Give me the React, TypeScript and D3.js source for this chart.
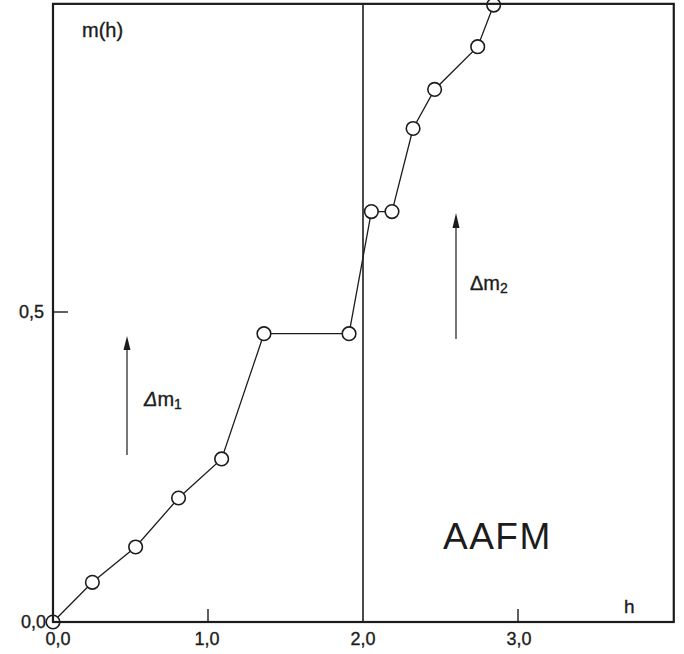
import React from "react";
import * as d3 from "d3";

const hValues = [0, 0.254, 0.533, 0.81, 1.088, 1.361, 1.91, 2.054, 2.187, 2.323, 2.462, 2.74, 2.843];
const mValues = [0, 0.064, 0.121, 0.2, 0.263, 0.465, 0.465, 0.662, 0.662, 0.796, 0.859, 0.928, 0.995];
const xTicks = [0, 1, 2, 3];
const xTickLabels = ["0,0", "1,0", "2,0", "3,0"];
const yTicks = [0, 0.5];
const yTickLabels = ["0,0", "0,5"];

const W = 684;
const H = 654;
const INK = "#1c1c1c";
const FONT = "'Liberation Sans', Arial, sans-serif";

export default function App() {
  const x = d3.scaleLinear().domain([0, 4]).range([53, 673]);
  const y = d3.scaleLinear().domain([0, 1]).range([622, 2]);
  const xMax = 4.005;
  const yMax = 0.997;
  const pts = hValues.map((h, i) => [h, mValues[i]] as [number, number]);
  const line = d3.line<[number, number]>().x((d) => x(d[0])).y((d) => y(d[1]));
  const textStyle = { stroke: INK, strokeWidth: 0.35 } as React.CSSProperties;

  return (
    <svg width={W} height={H} style={{ position: "absolute", left: 0, top: 0, background: "#fff" }}>
      <rect x={0} y={0} width={W} height={H} fill="#fff" />
      {/* vertical line at h = 2 */}
      <line x1={x(2)} x2={x(2)} y1={y(0)} y2={y(yMax)} stroke={INK} strokeWidth={1.6} />
      {/* inner ticks */}
      {xTicks.filter((t) => t === 1 || t === 3).map((t) => (
        <line key={"xt" + t} x1={x(t)} x2={x(t)} y1={y(0)} y2={y(0) - 13} stroke={INK} strokeWidth={1.4} />
      ))}
      {yTicks.filter((t) => t > 0).map((t) => (
        <line key={"yt" + t} x1={x(0)} x2={x(0) + 15} y1={y(t)} y2={y(t)} stroke={INK} strokeWidth={1.4} />
      ))}
      {/* data line */}
      <path d={line(pts) || ""} fill="none" stroke={INK} strokeWidth={1.3} />
      {pts.map((p, i) => (
        <circle key={i} cx={x(p[0])} cy={y(p[1])} r={6.8} fill="#fff" stroke={INK} strokeWidth={1.6} />
      ))}
      {/* frame */}
      <rect x={x(0)} y={y(yMax)} width={x(xMax) - x(0)} height={y(0) - y(yMax)} fill="none" stroke={INK} strokeWidth={2.2} />
      {/* tick labels */}
      {xTicks.map((t, i) => (
        <text key={"xl" + t} x={x(t) + (i === 0 ? 5 : i === 1 ? -1 : i === 3 ? 1 : 0)} y={645} textAnchor="middle" fontFamily={FONT} fontSize={18} fill={INK} style={textStyle}>
          {xTickLabels[i]}
        </text>
      ))}
      {yTicks.map((t, i) => (
        <text key={"yl" + t} x={i === 0 ? 46 : 44} y={y(t) + 6} textAnchor="end" fontFamily={FONT} fontSize={18} fill={INK} style={textStyle}>
          {yTickLabels[i]}
        </text>
      ))}
      {/* axis titles */}
      <text x={82} y={37} fontFamily={FONT} fontSize={20} fill={INK} style={textStyle}>m(h)</text>
      <text x={624} y={613} fontFamily={FONT} fontSize={19} fill={INK} style={textStyle}>h</text>
      {/* delta m1 arrow */}
      <line x1={127} x2={127} y1={455} y2={345} stroke={INK} strokeWidth={1.2} />
      <path d="M127,336 L123.5,350 L130.5,350 Z" fill={INK} />
      <text x={144} y={406} fontFamily={FONT} fontSize={20} fill={INK} style={textStyle}>
        <tspan fontStyle="italic">Δ</tspan>m<tspan fontSize={14} dy={3}>1</tspan>
      </text>
      {/* delta m2 arrow */}
      <line x1={456} x2={456} y1={339} y2={222} stroke={INK} strokeWidth={1.2} />
      <path d="M456,213 L452.5,228 L459.5,228 Z" fill={INK} />
      <text x={470} y={290} fontFamily={FONT} fontSize={20} fill={INK} style={textStyle}>
        Δm<tspan fontSize={14} dy={3}>2</tspan>
      </text>
      <text x={443} y={549} fontFamily={FONT} fontSize={37} letterSpacing={1.5} fill={INK}>AAFM</text>
    </svg>
  );
}
